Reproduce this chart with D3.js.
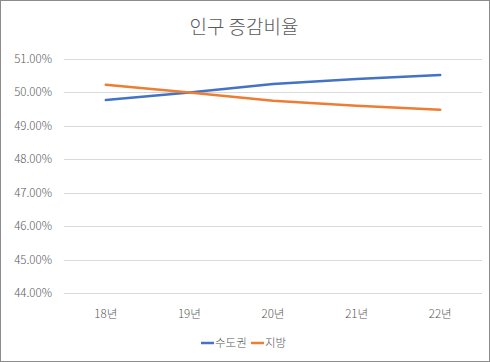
<!DOCTYPE html>
<html>
<head>
<meta charset="utf-8">
<script src="https://cdn.jsdelivr.net/npm/d3@7"></script>
<style>
  body { margin: 0; background: #fff; }
  svg { display: block; font-family: "Noto Sans CJK KR", "Noto Sans", sans-serif; }
</style>
</head>
<body>
<svg id="chart"></svg>
<script>
// data
const years = ['18년', '19년', '20년', '21년', '22년'];
const capital = [49.77, 50.0, 50.25, 50.4, 50.52];   // 수도권
const local = [50.23, 50.0, 49.75, 49.6, 49.48];     // 지방
const yTicks = [44, 45, 46, 47, 48, 49, 50, 51];

const [w, h] = [490, 362];
const margin = {top: 59, right: 8, bottom: 69, left: 64};

const svg = d3.select('#chart').attr('width', w).attr('height', h);

// outer border
svg.append('rect').attr('x', 0.5).attr('y', 0.5).attr('width', w - 1).attr('height', h - 1)
  .attr('fill', '#fff').attr('stroke', '#8c8c8c');

const x = d3.scaleBand().domain(years).range([margin.left, w - margin.right]);
const y = d3.scaleLinear().domain([44, 51]).range([h - margin.bottom, margin.top]);

// gridlines
svg.append('g').selectAll('line').data(yTicks).join('line')
  .attr('x1', margin.left).attr('x2', w - margin.right)
  .attr('y1', d => Math.round(y(d)) + 0.5).attr('y2', d => Math.round(y(d)) + 0.5)
  .attr('stroke', '#d9d9d9').attr('stroke-width', 1);

// y labels
svg.append('g').selectAll('text').data(yTicks).join('text')
  .attr('x', 52).attr('y', d => y(d)).attr('dy', '0.35em')
  .attr('text-anchor', 'end').attr('font-size', 11.5).attr('font-weight', 300).attr('fill', '#595959')
  .text(d => d.toFixed(2) + '%');

// x labels
svg.append('g').selectAll('text').data(years).join('text')
  .attr('x', d => x(d) + x.bandwidth() / 2).attr('y', 318)
  .attr('text-anchor', 'middle').attr('font-size', 11.5).attr('font-weight', 300).attr('fill', '#595959')
  .text(d => d);

// title
svg.append('text').attr('x', 244).attr('y', 34).attr('text-anchor', 'middle')
  .attr('font-size', 19).attr('font-weight', 300).attr('fill', '#595959').text('인구 증감비율');

const line = d3.line().x((d, i) => x(years[i]) + x.bandwidth() / 2).y(d => y(d));

svg.append('path').datum(capital).attr('d', line)
  .attr('fill', 'none').attr('stroke', '#4472c4').attr('stroke-width', 2.5).attr('stroke-linecap', 'round');
svg.append('path').datum(local).attr('d', line)
  .attr('fill', 'none').attr('stroke', '#ed7d31').attr('stroke-width', 2.5).attr('stroke-linecap', 'round');

// legend
const legend = [{name: '수도권', color: '#4472c4', x: 201}, {name: '지방', color: '#ed7d31', x: 251}];
const lg = svg.append('g').selectAll('g').data(legend).join('g');
lg.append('line').attr('x1', d => d.x).attr('x2', d => d.x + 13).attr('y1', 343).attr('y2', 343)
  .attr('stroke', d => d.color).attr('stroke-width', 2.5);
lg.append('text').attr('x', d => d.x + 14).attr('y', 343).attr('dy', '0.35em')
  .attr('font-size', 11.5).attr('font-weight', 300).attr('fill', '#595959').text(d => d.name);
</script>
</body>
</html>
